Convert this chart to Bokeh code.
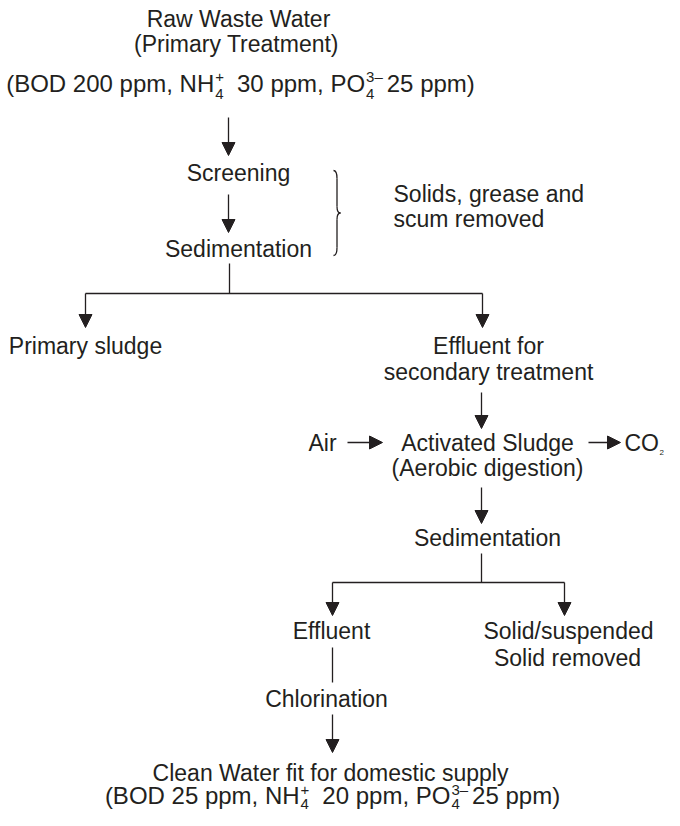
from bokeh.plotting import figure
from bokeh.models import Range1d, Arrow, NormalHead
from bokeh.core.properties import value
from bokeh.embed import file_html
from bokeh.resources import INLINE

# ---------------- data (texts and values) ----------------
raw_title = ["Raw Waste Water", "(Primary Treatment)"]
primary_steps = ["Screening", "Sedimentation"]
removed_note = ["Solids, grease and", "scum removed"]
branch_left = ["Primary sludge"]
branch_right = ["Effluent for", "secondary treatment"]
aeration = ["Activated Sludge", "(Aerobic digestion)"]
air_in = "Air"
gas_out = ("CO", "2")
secondary_sed = "Sedimentation"
final_left = "Effluent"
final_right = ["Solid/suspended", "Solid removed"]
disinfect = "Chlorination"
clean_title = "Clean Water fit for domestic supply"
# water quality (ppm): BOD, NH4+, PO4 3-
quality_in = [200, 30, 25]
quality_out = [25, 20, 25]

# ---------------- styles ----------------
FONT = value("Liberation Sans")
FS = 23
QFS = 24
SFS = 15
INK = "#231f20"
LW = 1.3

# Arial / Liberation Sans advance widths (per 1000 em)
W = {' ': 278, '(': 333, ')': 333, ',': 278, '/': 278, '+': 584, '\u2013': 556,
     'A': 667, 'B': 667, 'C': 722, 'D': 722, 'H': 722, 'N': 722, 'O': 778,
     'P': 667, 'R': 722, 'S': 667, 'W': 944,
     'a': 556, 'b': 556, 'c': 500, 'd': 556, 'e': 556, 'f': 278, 'g': 556,
     'i': 222, 'l': 222, 'm': 833, 'n': 556, 'o': 556, 'p': 556, 'r': 333,
     's': 500, 't': 278, 'u': 556, 'v': 500, 'y': 500, 'w': 722}


def tw(s, size):
    return sum(W.get(c, 556) for c in s) * size / 1000.0


p = figure(width=664, height=810, x_range=Range1d(0, 664), y_range=Range1d(810, 0),
           output_backend="svg", toolbar_location=None, min_border=0)
p.axis.visible = False
p.grid.visible = False
p.outline_line_color = None
p.background_fill_color = "white"
p.border_fill_color = "white"


def label(x, y, s, align="center", size=FS):
    p.text(x=[x], y=[y], text=[s], text_font=FONT, text_font_size=value(f"{size}px"),
           text_align=align, text_baseline="middle", text_color=INK)


def arrow(x0, y0, x1, y1):
    p.add_layout(Arrow(end=NormalHead(size=13, fill_color=INK, line_color=INK, line_width=1),
                       x_start=x0, y_start=y0, x_end=x1, y_end=y1,
                       line_color=INK, line_width=LW))


def seg(x0, y0, x1, y1):
    p.segment(x0=[x0], y0=[y0], x1=[x1], y1=[y1], line_color=INK, line_width=LW)


def quality_line(cx, y, q, sup_dy=-7, sub_dy=10):
    bod, nh, po = q
    # (kind, text(s), gap after)
    pieces = [("m", f"(BOD {bod} ppm, NH", 1), ("s", ("+", "4"), 13),
              ("m", f"{nh} ppm, PO", 1), ("s", ("3\u2013", "4"), 4),
              ("m", f"{po} ppm)", 0)]
    widths = []
    for kind, t, gap in pieces:
        if kind == "m":
            widths.append(tw(t, QFS) + gap)
        else:
            widths.append(max(tw(t[0], SFS), tw(t[1], SFS)) + gap)
    x = cx - sum(widths) / 2
    for (kind, t, gap), w in zip(pieces, widths):
        if kind == "m":
            label(x, y, t, align="left", size=QFS)
        else:
            label(x, y + sup_dy, t[0], align="left", size=SFS)
            label(x, y + sub_dy, t[1], align="left", size=SFS)
        x += w


# ---------------- primary treatment ----------------
label(238, 18, raw_title[0])
label(236, 43, raw_title[1])
quality_line(240, 83, quality_in)
arrow(228, 117, 228, 155)
label(238, 172, primary_steps[0])
arrow(228, 194, 228, 232)
label(238, 248, primary_steps[1])

# brace
bx0, bx1, bx2 = 333, 336.5, 340
p.quadratic(x0=[bx0, bx1, bx2, bx1], y0=[170, 206, 212.5, 247],
            x1=[bx1, bx2, bx1, bx0], y1=[178, 212.5, 219, 255],
            cx=[bx1, bx1, bx1, bx1], cy=[170, 212.5, 212.5, 255],
            line_color=INK, line_width=LW)
seg(bx1, 178, bx1, 206)
seg(bx1, 219, bx1, 247)
label(393, 193, removed_note[0], align="left")
label(393, 218, removed_note[1], align="left")

# split
seg(229, 263, 229, 293)
seg(85, 293, 482, 293)
arrow(85, 293, 85, 327)
arrow(482, 293, 482, 327)
label(85, 345, branch_left[0])
label(488, 345, branch_right[0])
label(488, 371, branch_right[1])

# secondary treatment
arrow(481, 392, 481, 428)
label(322, 442, air_in)
arrow(347, 442, 382, 442)
label(487, 442, aeration[0])
label(487, 467, aeration[1])
arrow(588, 442, 620, 442)
label(624, 442, gas_out[0], align="left")
label(624 + tw(gas_out[0], FS) + 0.5, 452, gas_out[1], align="left", size=8)

arrow(481, 487, 481, 523)
label(487, 537, secondary_sed)
seg(481, 553, 481, 582)
seg(332, 582, 564, 582)
arrow(332, 582, 332, 615)
arrow(564, 582, 564, 615)
label(331, 630, final_left)
label(568, 630, final_right[0])
label(567, 657, final_right[1])

seg(332, 647, 332, 682)
label(326, 698, disinfect)
arrow(332, 714, 332, 752)
label(330, 772, clean_title)
quality_line(332, 795, quality_out, sup_dy=-6, sub_dy=8)

open("out.html", "w").write(file_html(p, INLINE))
